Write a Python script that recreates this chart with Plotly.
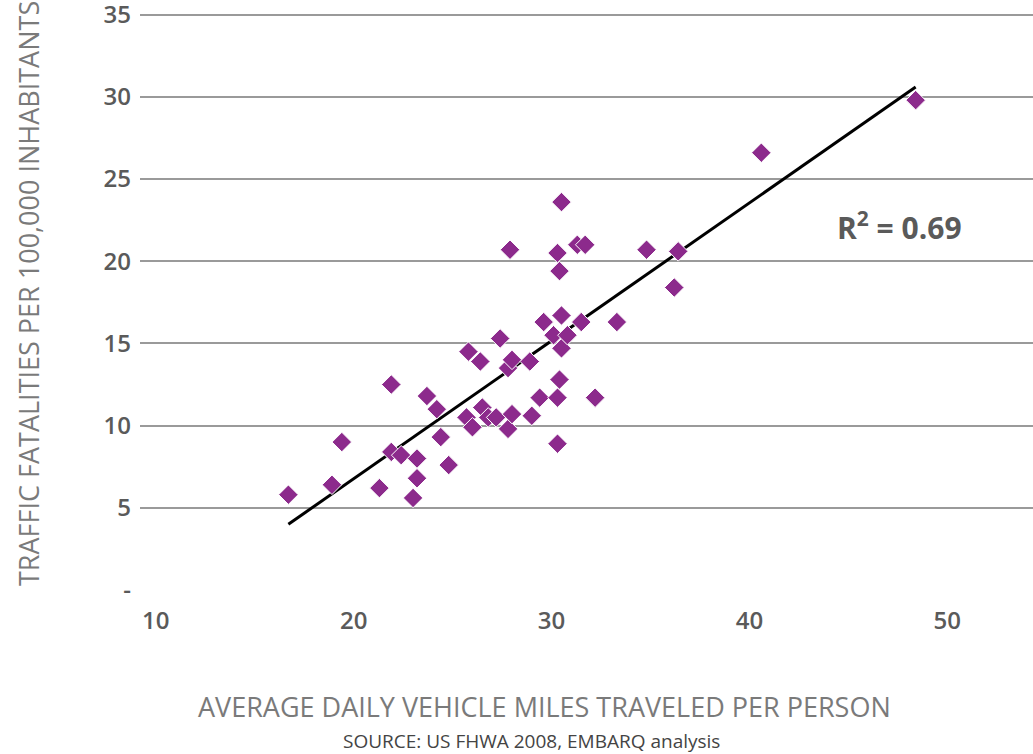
import numpy as np
import plotly.graph_objects as go

# Data: average daily vehicle miles per person vs traffic fatalities per 100,000
vmt = [16.7, 18.9, 19.4, 21.3, 21.9, 21.9, 22.4, 23.2, 23.2, 23.0,
       23.7, 24.2, 24.4, 24.8, 25.7, 25.8, 26.0, 26.4, 26.5, 26.8,
       27.2, 27.4, 27.8, 28.0, 27.8, 28.0, 27.9, 28.9, 29.0, 29.4,
       29.6, 30.1, 30.3, 30.3, 30.3, 30.4, 30.4, 30.5, 30.5, 30.5,
       30.8, 31.3, 31.7, 31.5, 32.2, 33.3, 34.8, 36.2, 36.4, 40.6, 48.4]
fatalities = [5.8, 6.4, 9.0, 6.2, 12.5, 8.4, 8.2, 8.0, 6.8, 5.6,
              11.8, 11.0, 9.3, 7.6, 10.5, 14.5, 9.9, 13.9, 11.1, 10.5,
              10.5, 15.3, 13.5, 14.0, 9.8, 10.7, 20.7, 13.9, 10.6, 11.7,
              16.3, 15.5, 20.5, 8.9, 11.7, 12.8, 19.4, 16.7, 14.7, 23.6,
              15.5, 21.0, 21.0, 16.3, 11.7, 16.3, 20.7, 18.4, 20.6, 26.6, 29.8]

x_ticks = [10, 20, 30, 40, 50]
y_ticks = [0, 5, 10, 15, 20, 25, 30, 35]
y_tick_labels = ["-", "5", "10", "15", "20", "25", "30", "35"]
r_squared_text = "R<sup>2</sup> = 0.69"

x_title = "AVERAGE DAILY VEHICLE MILES TRAVELED PER PERSON"
y_title = "TRAFFIC FATALITIES PER 100,000 INHABITANTS"
source_text = "SOURCE: US FHWA 2008, EMBARQ analysis"

# Linear trend line from the data
slope, intercept = np.polyfit(vmt, fatalities, 1)
x_fit = np.array([min(vmt), max(vmt)])
y_fit = slope * x_fit + intercept

fig = go.Figure()
fig.add_trace(go.Scatter(
    x=x_fit, y=y_fit, mode="lines",
    line=dict(color="black", width=3), hoverinfo="skip", showlegend=False))
fig.add_trace(go.Scatter(
    x=vmt, y=fatalities, mode="markers",
    marker=dict(symbol="diamond", size=15, color="#8C2A8C",
                line=dict(color="white", width=1)),
    showlegend=False))

L, T, B = 140, 13, 164
PW, PH = 1033 - L, 754 - T - B


def px(xp):
    return (xp - L) / PW


def py(yp):
    return (754 - B - yp) / PH


tick_font = dict(family="Open Sans", size=24, color="#5a5a5a", weight=600)
fig.update_layout(
    width=1033, height=754,
    margin=dict(l=L, r=0, t=T, b=B, autoexpand=False),
    plot_bgcolor="white", paper_bgcolor="white",
    xaxis=dict(range=[9.2, 54.33], tickvals=x_ticks, showgrid=False,
               zeroline=False, showline=False, ticks="", automargin=False,
               tickfont=tick_font, ticklabelstandoff=14,
               ticklabeloverflow="allow"),
    yaxis=dict(range=[0, 35.1], tickvals=y_ticks, ticktext=y_tick_labels,
               showgrid=True, gridcolor="#9a9a9a", gridwidth=2,
               zeroline=False, showline=False, ticks="", automargin=False,
               tickfont=tick_font, ticklabelstandoff=8,
               ticklabeloverflow="allow"),
    annotations=[
        dict(text=y_title, xref="paper", yref="paper", x=px(28), y=py(294),
             xanchor="center", yanchor="middle", textangle=-90, showarrow=False,
             font=dict(family="Open Sans", size=27, color="#7a7a7a")),
        dict(text=x_title, xref="paper", yref="paper", x=px(544), y=py(706),
             xanchor="center", yanchor="middle", showarrow=False,
             font=dict(family="Open Sans", size=27, color="#7a7a7a")),
        dict(text=source_text, xref="paper", yref="paper", x=px(531), y=py(741),
             xanchor="center", yanchor="middle", showarrow=False,
             font=dict(family="Open Sans", size=19, color="#444444")),
        dict(text=r_squared_text, xref="paper", yref="paper", x=px(899),
             y=py(226), xanchor="center", yanchor="middle", showarrow=False,
             font=dict(family="Open Sans", size=30, color="#5a5a5a", weight=700)),
    ],
)

fig.write_html("out.html", config={"displayModeBar": False},
               post_script="document.body.style.margin='0';document.body.style.overflow='hidden';")
